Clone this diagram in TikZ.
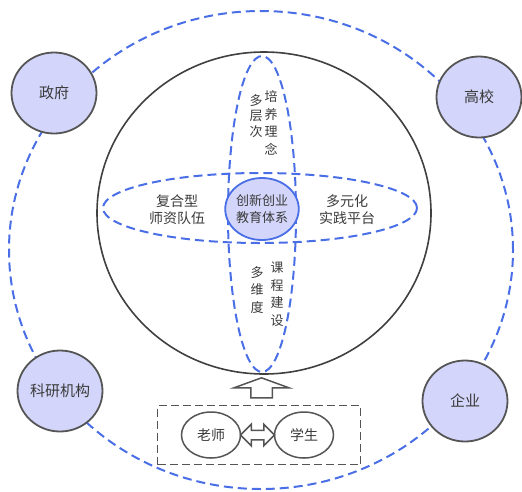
\documentclass[tikz,border=0pt]{standalone}
\usepackage{fontspec}
\setmainfont{Noto Sans CJK SC}
\usetikzlibrary{shapes.geometric,shapes.arrows,calc}

\definecolor{dashblue}{HTML}{4A6EE6}
\definecolor{lavender}{HTML}{D3D6FA}
\definecolor{rimgray}{HTML}{555555}
\definecolor{inkgray}{HTML}{3A3A3A}

\begin{document}
\begin{tikzpicture}[x=1pt, y=-1pt,
	blueline/.style	= {draw=dashblue, line width=2pt, dash pattern=on 9pt off 5pt},
	actor/.style	= {ellipse, draw=rimgray, line width=1.8pt, fill=lavender, minimum width=85pt, minimum height=81pt, inner sep=0pt, font=\fontsize{15}{18}\selectfont, text=inkgray},
	member/.style	= {ellipse, draw=rimgray, line width=1.5pt, fill=white, minimum width=59pt, minimum height=46pt, inner sep=0pt, font=\fontsize{14}{17}\selectfont, text=inkgray},
	words/.style	= {align=center, inner sep=0pt, font=\fontsize{14}{17}\selectfont, text=inkgray},
	column/.style	= {align=center, inner sep=0pt, font=\fontsize{13}{17.5}\selectfont, text=inkgray},
	hollow/.style	= {draw=rimgray, line width=1.5pt, fill=white, inner xsep=0pt}]

\useasboundingbox (0,0) rectangle (522,491);

% outer ring of partners
\path	(261,250)	node(ring)		[ellipse, blueline, minimum width=504pt, minimum height=478pt]	{};

% the sphere and its two bands
\path	(264,213)	node(sphere)	[ellipse, draw=black!75, line width=1.6pt, minimum width=334pt, minimum height=322pt]	{}
		(260,208)	node(hband)		[ellipse, blueline, minimum width=314pt, minimum height=70pt]	{}
		(262,214)	node(vband)		[ellipse, blueline, minimum width=68pt, minimum height=316pt]	{}
		(262,209)	node(core)		[ellipse, draw=dashblue, line width=1.8pt, fill=lavender, minimum width=72pt, minimum height=62pt, inner sep=0pt, font=\fontsize{13}{17}\selectfont, text=inkgray, align=center]	{创新创业\\教育体系};

\path	(256,116)	node(tiers)		[column, font=\fontsize{13}{15.5}\selectfont]	{多\\层\\次}
		(271,123)	node(ideas)		[column]	{培\\养\\理\\念}
		(257,290)	node(dims)		[column]	{多\\维\\度}
		(277,294)	node(course)	[column]	{课\\程\\建\\设}
		(177,210)	node(staff)		[words]		{复合型\\师资队伍}
		(347,210)	node(platform)	[words]		{多元化\\实践平台};

% partners
\path	(54,93)		node(gov)		[actor]	{政府}
		(479,97)	node(univ)		[actor]	{高校}
		(60,391)	node(inst)		[actor]	{科研机构}
		(465,401)	node(firm)		[actor]	{企业};

% teachers and students
\path	(259,435)	node(crew)		[rectangle, draw=rimgray, line width=1.5pt, dash pattern=on 8pt off 4pt, minimum width=203pt, minimum height=59pt]	{}
		(211,435)	node(teacher)	[member]	{老师}
		(304,435)	node(student)	[member]	{学生};

\path	($(teacher.east)!0.5!(student.west)$)	node(swap)	[double arrow, hollow, minimum height=34pt, inner ysep=4pt, double arrow head extend=6pt]	{};
\path	($(crew.north)!0.5!(sphere.south)$)		node(lift)	[single arrow, hollow, rotate=90, minimum height=20pt, inner ysep=10pt, single arrow head extend=17pt, single arrow tip angle=140]	{};
\end{tikzpicture}
\end{document}
